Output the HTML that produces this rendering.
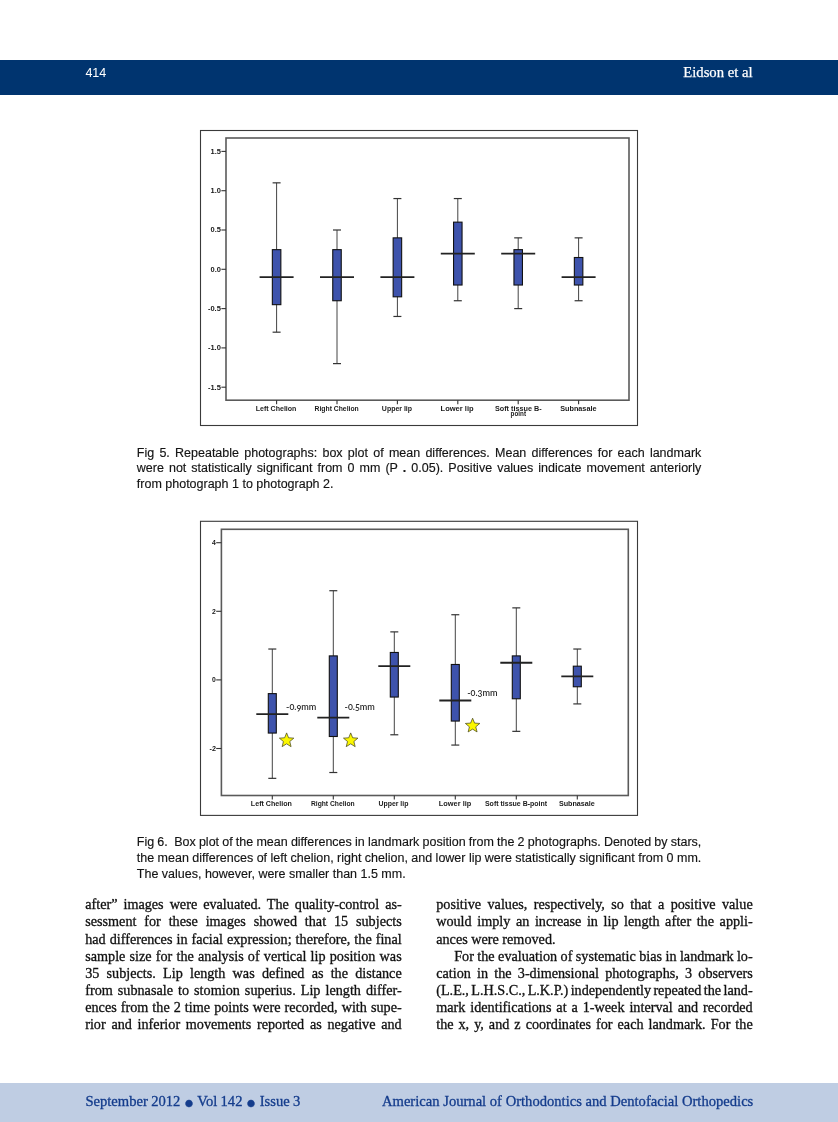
<!DOCTYPE html>
<html><head><meta charset="utf-8"><title>Eidson et al 414</title>
<style>
html,body{margin:0;padding:0;background:#fff;}
body{width:838px;height:1122px;position:relative;overflow:hidden;}
.hdr{position:absolute;left:0;top:60px;width:838px;height:35px;background:#00346f;}
.pg{position:absolute;left:85.4px;top:66.52px;font:12.5px/1 "Liberation Sans",Arial,sans-serif;color:#fff;white-space:nowrap;}
.rh{position:absolute;right:85.20000000000005px;top:64.20px;font:15.4px/1 "Liberation Serif","Times New Roman",serif;color:#fff;white-space:nowrap;transform:scaleX(0.956);transform-origin:right top;-webkit-text-stroke:0.25px #fff;}
.charts{position:absolute;left:0;top:0;}
.bu{font-size:30px;line-height:0;vertical-align:-8.2px;}
.cl{position:absolute;font:12.5px/1 "Liberation Sans",Arial,sans-serif;color:#141414;white-space:pre;-webkit-text-stroke:0.15px #141414;}
.bl{position:absolute;font:14.2px/1 "Liberation Serif","Times New Roman",serif;color:#111;white-space:pre;letter-spacing:0px;-webkit-text-stroke:0.3px #111;}
.ftr{position:absolute;left:0;top:1083px;width:838px;height:39px;background:#bfcde3;}
.ft{position:absolute;top:1094.37px;font:14.6px/1 "Liberation Serif","Times New Roman",serif;color:#143c8c;white-space:pre;-webkit-text-stroke:0.3px #143c8c;}
</style></head>
<body>
<div class="hdr"></div>
<div class="pg">414</div>
<div class="rh">Eidson et al</div>
<svg class="charts" width="838" height="1122" viewBox="0 0 838 1122">
<style>
.yl { font-family: "Liberation Sans", Arial, sans-serif; font-size: 6.6px; font-weight: bold; fill: #161616; }
.xl { font-family: "Liberation Sans", Arial, sans-serif; font-size: 6.7px; font-weight: bold; fill: #1a1a1a; }
.an { font-family: "Lato", "DejaVu Sans", "Liberation Sans", sans-serif; font-size: 9.5px; font-weight: 600; fill: #2a2a2a; font-variant-numeric: oldstyle-nums; }
</style>
<rect x="200.5" y="130.5" width="437.0" height="295.0" fill="#fff" stroke="#3a3a3a" stroke-width="1.1"/>
<rect x="226" y="138" width="403" height="262.2" fill="#fff" stroke="#5a5a5a" stroke-width="1.6"/>
<line x1="221.4" y1="151.40" x2="226" y2="151.40" stroke="#333" stroke-width="1.1"/>
<text x="220.9" y="153.70" text-anchor="end" class="yl" textLength="10.4" lengthAdjust="spacingAndGlyphs">1.5</text>
<line x1="221.4" y1="190.70" x2="226" y2="190.70" stroke="#333" stroke-width="1.1"/>
<text x="220.9" y="193.00" text-anchor="end" class="yl" textLength="10.4" lengthAdjust="spacingAndGlyphs">1.0</text>
<line x1="221.4" y1="230.00" x2="226" y2="230.00" stroke="#333" stroke-width="1.1"/>
<text x="220.9" y="232.30" text-anchor="end" class="yl" textLength="10.4" lengthAdjust="spacingAndGlyphs">0.5</text>
<line x1="221.4" y1="269.30" x2="226" y2="269.30" stroke="#333" stroke-width="1.1"/>
<text x="220.9" y="271.60" text-anchor="end" class="yl" textLength="10.4" lengthAdjust="spacingAndGlyphs">0.0</text>
<line x1="221.4" y1="308.60" x2="226" y2="308.60" stroke="#333" stroke-width="1.1"/>
<text x="220.9" y="310.90" text-anchor="end" class="yl" textLength="13.0" lengthAdjust="spacingAndGlyphs">-0.5</text>
<line x1="221.4" y1="347.90" x2="226" y2="347.90" stroke="#333" stroke-width="1.1"/>
<text x="220.9" y="350.20" text-anchor="end" class="yl" textLength="13.0" lengthAdjust="spacingAndGlyphs">-1.0</text>
<line x1="221.4" y1="387.20" x2="226" y2="387.20" stroke="#333" stroke-width="1.1"/>
<text x="220.9" y="389.50" text-anchor="end" class="yl" textLength="13.0" lengthAdjust="spacingAndGlyphs">-1.5</text>
<line x1="276.60" y1="182.84" x2="276.60" y2="332.18" stroke="#444" stroke-width="1"/>
<line x1="272.60" y1="182.84" x2="280.60" y2="182.84" stroke="#333" stroke-width="1.2"/>
<line x1="272.60" y1="332.18" x2="280.60" y2="332.18" stroke="#333" stroke-width="1.2"/>
<rect x="272.35" y="249.65" width="8.50" height="55.02" fill="#3e53ac" stroke="#111" stroke-width="1.1"/>
<line x1="259.60" y1="277.16" x2="293.60" y2="277.16" stroke="#222" stroke-width="1.8"/>
<line x1="276.60" y1="400.2" x2="276.60" y2="404.2" stroke="#333" stroke-width="1.1"/>
<line x1="337.00" y1="230.00" x2="337.00" y2="363.62" stroke="#444" stroke-width="1"/>
<line x1="333.00" y1="230.00" x2="341.00" y2="230.00" stroke="#333" stroke-width="1.2"/>
<line x1="333.00" y1="363.62" x2="341.00" y2="363.62" stroke="#333" stroke-width="1.2"/>
<rect x="332.75" y="249.65" width="8.50" height="51.09" fill="#3e53ac" stroke="#111" stroke-width="1.1"/>
<line x1="320.00" y1="277.16" x2="354.00" y2="277.16" stroke="#222" stroke-width="1.8"/>
<line x1="337.00" y1="400.2" x2="337.00" y2="404.2" stroke="#333" stroke-width="1.1"/>
<line x1="397.40" y1="198.56" x2="397.40" y2="316.46" stroke="#444" stroke-width="1"/>
<line x1="393.40" y1="198.56" x2="401.40" y2="198.56" stroke="#333" stroke-width="1.2"/>
<line x1="393.40" y1="316.46" x2="401.40" y2="316.46" stroke="#333" stroke-width="1.2"/>
<rect x="393.15" y="237.86" width="8.50" height="58.95" fill="#3e53ac" stroke="#111" stroke-width="1.1"/>
<line x1="380.40" y1="277.16" x2="414.40" y2="277.16" stroke="#222" stroke-width="1.8"/>
<line x1="397.40" y1="400.2" x2="397.40" y2="404.2" stroke="#333" stroke-width="1.1"/>
<line x1="457.80" y1="198.56" x2="457.80" y2="300.74" stroke="#444" stroke-width="1"/>
<line x1="453.80" y1="198.56" x2="461.80" y2="198.56" stroke="#333" stroke-width="1.2"/>
<line x1="453.80" y1="300.74" x2="461.80" y2="300.74" stroke="#333" stroke-width="1.2"/>
<rect x="453.55" y="222.14" width="8.50" height="62.88" fill="#3e53ac" stroke="#111" stroke-width="1.1"/>
<line x1="440.80" y1="253.58" x2="474.80" y2="253.58" stroke="#222" stroke-width="1.8"/>
<line x1="457.80" y1="400.2" x2="457.80" y2="404.2" stroke="#333" stroke-width="1.1"/>
<line x1="518.20" y1="237.86" x2="518.20" y2="308.60" stroke="#444" stroke-width="1"/>
<line x1="514.20" y1="237.86" x2="522.20" y2="237.86" stroke="#333" stroke-width="1.2"/>
<line x1="514.20" y1="308.60" x2="522.20" y2="308.60" stroke="#333" stroke-width="1.2"/>
<rect x="513.95" y="249.65" width="8.50" height="35.37" fill="#3e53ac" stroke="#111" stroke-width="1.1"/>
<line x1="501.20" y1="253.58" x2="535.20" y2="253.58" stroke="#222" stroke-width="1.8"/>
<line x1="518.20" y1="400.2" x2="518.20" y2="404.2" stroke="#333" stroke-width="1.1"/>
<line x1="578.60" y1="237.86" x2="578.60" y2="300.74" stroke="#444" stroke-width="1"/>
<line x1="574.60" y1="237.86" x2="582.60" y2="237.86" stroke="#333" stroke-width="1.2"/>
<line x1="574.60" y1="300.74" x2="582.60" y2="300.74" stroke="#333" stroke-width="1.2"/>
<rect x="574.35" y="257.51" width="8.50" height="27.51" fill="#3e53ac" stroke="#111" stroke-width="1.1"/>
<line x1="561.60" y1="277.16" x2="595.60" y2="277.16" stroke="#222" stroke-width="1.8"/>
<line x1="578.60" y1="400.2" x2="578.60" y2="404.2" stroke="#333" stroke-width="1.1"/>
<text x="276.05" y="410.50" text-anchor="middle" class="xl" textLength="40.8" lengthAdjust="spacingAndGlyphs">Left Chelion</text>
<text x="336.65" y="410.50" text-anchor="middle" class="xl" textLength="44.199999999999996" lengthAdjust="spacingAndGlyphs">Right Chelion</text>
<text x="396.95" y="410.50" text-anchor="middle" class="xl" textLength="30.2" lengthAdjust="spacingAndGlyphs">Upper lip</text>
<text x="457.10" y="410.50" text-anchor="middle" class="xl" textLength="33.1" lengthAdjust="spacingAndGlyphs">Lower lip</text>
<text x="518.30" y="410.50" text-anchor="middle" class="xl" textLength="46.699999999999996" lengthAdjust="spacingAndGlyphs">Soft tissue B-</text>
<text x="518.30" y="416.10" text-anchor="middle" class="xl" style="font-size:6.3px">point</text>
<text x="578.35" y="410.50" text-anchor="middle" class="xl" textLength="36.4" lengthAdjust="spacingAndGlyphs">Subnasale</text>
<rect x="200.5" y="521.3" width="437.0" height="294.1" fill="#fff" stroke="#3a3a3a" stroke-width="1.1"/>
<rect x="221.4" y="529.3" width="406.9" height="266.20000000000005" fill="#fff" stroke="#5a5a5a" stroke-width="1.6"/>
<line x1="216.20000000000002" y1="542.70" x2="221.4" y2="542.70" stroke="#333" stroke-width="1.1"/>
<text x="215.9" y="545.00" text-anchor="end" class="yl" textLength="3.8" lengthAdjust="spacingAndGlyphs">4</text>
<line x1="216.20000000000002" y1="611.30" x2="221.4" y2="611.30" stroke="#333" stroke-width="1.1"/>
<text x="215.9" y="613.60" text-anchor="end" class="yl" textLength="3.8" lengthAdjust="spacingAndGlyphs">2</text>
<line x1="216.20000000000002" y1="679.90" x2="221.4" y2="679.90" stroke="#333" stroke-width="1.1"/>
<text x="215.9" y="682.20" text-anchor="end" class="yl" textLength="3.8" lengthAdjust="spacingAndGlyphs">0</text>
<line x1="216.20000000000002" y1="748.50" x2="221.4" y2="748.50" stroke="#333" stroke-width="1.1"/>
<text x="215.9" y="750.80" text-anchor="end" class="yl" textLength="6.4" lengthAdjust="spacingAndGlyphs">-2</text>
<line x1="272.30" y1="649.03" x2="272.30" y2="778.34" stroke="#444" stroke-width="1"/>
<line x1="268.30" y1="649.03" x2="276.30" y2="649.03" stroke="#333" stroke-width="1.2"/>
<line x1="268.30" y1="778.34" x2="276.30" y2="778.34" stroke="#333" stroke-width="1.2"/>
<rect x="268.30" y="693.62" width="8.00" height="39.44" fill="#3e53ac" stroke="#111" stroke-width="1.1"/>
<line x1="256.30" y1="714.20" x2="288.30" y2="714.20" stroke="#222" stroke-width="1.8"/>
<line x1="272.30" y1="795.5" x2="272.30" y2="799.5" stroke="#333" stroke-width="1.1"/>
<line x1="333.30" y1="590.72" x2="333.30" y2="772.51" stroke="#444" stroke-width="1"/>
<line x1="329.30" y1="590.72" x2="337.30" y2="590.72" stroke="#333" stroke-width="1.2"/>
<line x1="329.30" y1="772.51" x2="337.30" y2="772.51" stroke="#333" stroke-width="1.2"/>
<rect x="329.30" y="655.89" width="8.00" height="80.61" fill="#3e53ac" stroke="#111" stroke-width="1.1"/>
<line x1="317.30" y1="717.63" x2="349.30" y2="717.63" stroke="#222" stroke-width="1.8"/>
<line x1="333.30" y1="795.5" x2="333.30" y2="799.5" stroke="#333" stroke-width="1.1"/>
<line x1="394.30" y1="631.88" x2="394.30" y2="734.78" stroke="#444" stroke-width="1"/>
<line x1="390.30" y1="631.88" x2="398.30" y2="631.88" stroke="#333" stroke-width="1.2"/>
<line x1="390.30" y1="734.78" x2="398.30" y2="734.78" stroke="#333" stroke-width="1.2"/>
<rect x="390.30" y="652.46" width="8.00" height="44.59" fill="#3e53ac" stroke="#111" stroke-width="1.1"/>
<line x1="378.30" y1="666.18" x2="410.30" y2="666.18" stroke="#222" stroke-width="1.8"/>
<line x1="394.30" y1="795.5" x2="394.30" y2="799.5" stroke="#333" stroke-width="1.1"/>
<line x1="455.30" y1="614.73" x2="455.30" y2="745.07" stroke="#444" stroke-width="1"/>
<line x1="451.30" y1="614.73" x2="459.30" y2="614.73" stroke="#333" stroke-width="1.2"/>
<line x1="451.30" y1="745.07" x2="459.30" y2="745.07" stroke="#333" stroke-width="1.2"/>
<rect x="451.30" y="664.47" width="8.00" height="56.59" fill="#3e53ac" stroke="#111" stroke-width="1.1"/>
<line x1="439.30" y1="700.48" x2="471.30" y2="700.48" stroke="#222" stroke-width="1.8"/>
<line x1="455.30" y1="795.5" x2="455.30" y2="799.5" stroke="#333" stroke-width="1.1"/>
<line x1="516.30" y1="607.87" x2="516.30" y2="731.35" stroke="#444" stroke-width="1"/>
<line x1="512.30" y1="607.87" x2="520.30" y2="607.87" stroke="#333" stroke-width="1.2"/>
<line x1="512.30" y1="731.35" x2="520.30" y2="731.35" stroke="#333" stroke-width="1.2"/>
<rect x="512.30" y="655.89" width="8.00" height="42.88" fill="#3e53ac" stroke="#111" stroke-width="1.1"/>
<line x1="500.30" y1="662.75" x2="532.30" y2="662.75" stroke="#222" stroke-width="1.8"/>
<line x1="516.30" y1="795.5" x2="516.30" y2="799.5" stroke="#333" stroke-width="1.1"/>
<line x1="577.30" y1="649.03" x2="577.30" y2="703.91" stroke="#444" stroke-width="1"/>
<line x1="573.30" y1="649.03" x2="581.30" y2="649.03" stroke="#333" stroke-width="1.2"/>
<line x1="573.30" y1="703.91" x2="581.30" y2="703.91" stroke="#333" stroke-width="1.2"/>
<rect x="573.30" y="666.18" width="8.00" height="20.58" fill="#3e53ac" stroke="#111" stroke-width="1.1"/>
<line x1="561.30" y1="676.47" x2="593.30" y2="676.47" stroke="#222" stroke-width="1.8"/>
<line x1="577.30" y1="795.5" x2="577.30" y2="799.5" stroke="#333" stroke-width="1.1"/>
<text x="271.40" y="805.60" text-anchor="middle" class="xl" textLength="41.099999999999994" lengthAdjust="spacingAndGlyphs">Left Chelion</text>
<text x="332.80" y="805.60" text-anchor="middle" class="xl" textLength="43.699999999999996" lengthAdjust="spacingAndGlyphs">Right Chelion</text>
<text x="393.45" y="805.60" text-anchor="middle" class="xl" textLength="30.0" lengthAdjust="spacingAndGlyphs">Upper lip</text>
<text x="455.05" y="805.60" text-anchor="middle" class="xl" textLength="32.4" lengthAdjust="spacingAndGlyphs">Lower lip</text>
<text x="516.05" y="805.60" text-anchor="middle" class="xl" textLength="62.199999999999996" lengthAdjust="spacingAndGlyphs">Soft tissue B-point</text>
<text x="576.90" y="805.60" text-anchor="middle" class="xl" textLength="35.9" lengthAdjust="spacingAndGlyphs">Subnasale</text>
<text x="286.0" y="710.2" class="an" textLength="30.4" lengthAdjust="spacingAndGlyphs">-0.9mm</text>
<text x="344.5" y="710.2" class="an" textLength="30.4" lengthAdjust="spacingAndGlyphs">-0.5mm</text>
<text x="467.2" y="695.5" class="an" textLength="30.4" lengthAdjust="spacingAndGlyphs">-0.3mm</text>
<polygon points="286.60,732.90 288.57,737.79 293.83,738.15 289.78,741.53 291.07,746.65 286.60,743.84 282.13,746.65 283.42,741.53 279.37,738.15 284.63,737.79" fill="#fbf700" stroke="#4a4a20" stroke-width="0.75" stroke-linejoin="miter"/>
<polygon points="350.70,732.90 352.67,737.79 357.93,738.15 353.88,741.53 355.17,746.65 350.70,743.84 346.23,746.65 347.52,741.53 343.47,738.15 348.73,737.79" fill="#fbf700" stroke="#4a4a20" stroke-width="0.75" stroke-linejoin="miter"/>
<polygon points="472.60,718.20 474.57,723.09 479.83,723.45 475.78,726.83 477.07,731.95 472.60,729.14 468.13,731.95 469.42,726.83 465.37,723.45 470.63,723.09" fill="#fbf700" stroke="#4a4a20" stroke-width="0.75" stroke-linejoin="miter"/>
</svg>
<div class="cl" style="left:136.8px;top:446.92px;word-spacing:1.766px">Fig 5. Repeatable photographs: box plot of mean differences. Mean differences for each landmark</div>
<div class="cl" style="left:136.8px;top:462.42px;word-spacing:1.580px">were not statistically significant from 0 mm (P <b>.</b> 0.05). Positive values indicate movement anteriorly</div>
<div class="cl" style="left:136.8px;top:477.92px;word-spacing:0.000px">from photograph 1 to photograph 2.</div>
<div class="cl" style="left:136.8px;top:835.92px;word-spacing:-0.280px">Fig 6.  Box plot of the mean differences in landmark position from the 2 photographs. Denoted by stars,</div>
<div class="cl" style="left:136.8px;top:851.87px;word-spacing:-0.051px">the mean differences of left chelion, right chelion, and lower lip were statistically significant from 0 mm.</div>
<div class="cl" style="left:136.8px;top:867.82px;word-spacing:0.000px">The values, however, were smaller than 1.5 mm.</div>
<div class="bl" style="left:85.20px;top:897.21px;word-spacing:2.438px">after” images were evaluated. The quality-control as-</div>
<div class="bl" style="left:85.20px;top:914.36px;word-spacing:4.292px">sessment for these images showed that 15 subjects</div>
<div class="bl" style="left:85.20px;top:931.51px;word-spacing:0.458px">had differences in facial expression; therefore, the final</div>
<div class="bl" style="left:85.20px;top:948.66px;word-spacing:0.625px">sample size for the analysis of vertical lip position was</div>
<div class="bl" style="left:85.20px;top:965.81px;word-spacing:3.658px">35 subjects. Lip length was defined as the distance</div>
<div class="bl" style="left:85.20px;top:982.96px;word-spacing:1.498px">from subnasale to stomion superius. Lip length differ-</div>
<div class="bl" style="left:85.20px;top:1000.11px;word-spacing:0.497px">ences from the 2 time points were recorded, with supe-</div>
<div class="bl" style="left:85.20px;top:1017.26px;word-spacing:2.161px">rior and inferior movements reported as negative and</div>
<div class="bl" style="left:436.20px;top:897.21px;word-spacing:2.850px">positive values, respectively, so that a positive value</div>
<div class="bl" style="left:436.20px;top:914.36px;word-spacing:2.028px">would imply an increase in lip length after the appli-</div>
<div class="bl" style="left:436.20px;top:931.51px;word-spacing:0.000px">ances were removed.</div>
<div class="bl" style="left:454.20px;top:948.66px;word-spacing:-0.119px">For the evaluation of systematic bias in landmark lo-</div>
<div class="bl" style="left:436.20px;top:965.81px;word-spacing:2.643px">cation in the 3-dimensional photographs, 3 observers</div>
<div class="bl" style="left:436.20px;top:982.96px;word-spacing:-1.164px">(L.E., L.H.S.C., L.K.P.) independently repeated the land-</div>
<div class="bl" style="left:436.20px;top:1000.11px;word-spacing:1.375px">mark identifications at a 1-week interval and recorded</div>
<div class="bl" style="left:436.20px;top:1017.26px;word-spacing:1.447px">the x, y, and z coordinates for each landmark. For the</div>
<div class="ftr"></div>
<div class="ft" style="left:85.4px;word-spacing:-0.318px">September 2012 <span class="bu">•</span> Vol 142 <span class="bu">•</span> Issue 3</div>
<div class="ft" style="left:382px;word-spacing:0.014px">American Journal of Orthodontics and Dentofacial Orthopedics</div>
</body></html>
